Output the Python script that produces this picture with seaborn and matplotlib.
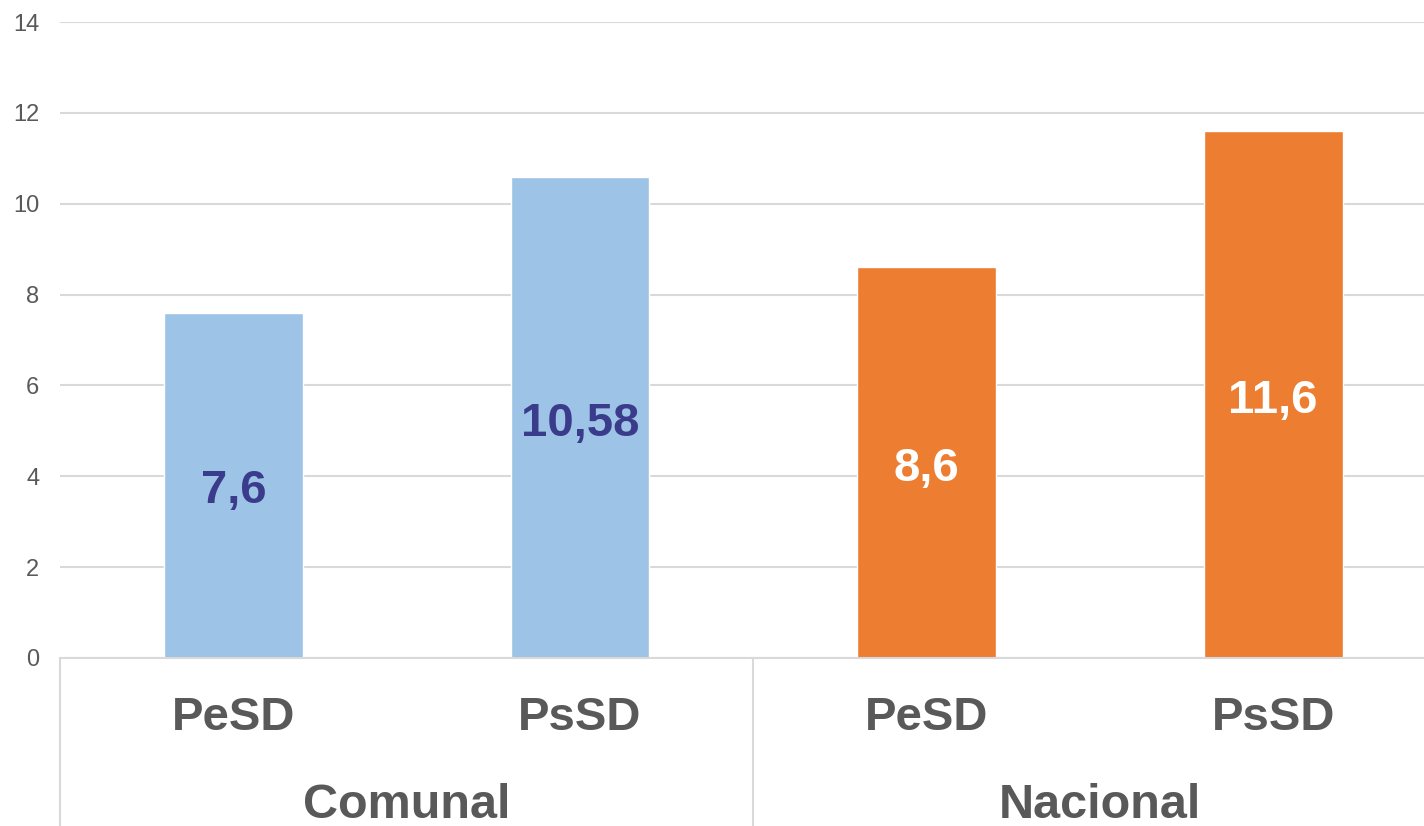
import matplotlib
matplotlib.use("Agg")
import matplotlib.pyplot as plt
import matplotlib.transforms as mtransforms
import seaborn as sns
import pandas as pd

# Chart data
groups = ["Comunal", "Comunal", "Nacional", "Nacional"]
subcats = ["PeSD", "PsSD", "PeSD", "PsSD"]
values = [7.6, 10.58, 8.6, 11.6]
value_labels = ["7,6", "10,58", "8,6", "11,6"]
group_names = ["Comunal", "Nacional"]
y_ticks = [0, 2, 4, 6, 8, 10, 12, 14]

bar_colors = {"Comunal": "#9DC3E6", "Nacional": "#ED7D31"}
text_colors = {"Comunal": "#3B3B8C", "Nacional": "#FFFFFF"}

df = pd.DataFrame({
    "group": groups,
    "sub": subcats,
    "value": values,
})
df["pos"] = df["group"] + " " + df["sub"]

sns.set_style("white")
plt.rcParams["font.family"] = ["Liberation Sans", "DejaVu Sans"]

fig = plt.figure(figsize=(14.24, 8.26), dpi=100)
ax = fig.add_axes([60 / 1424, 168 / 826, 1 - 60 / 1424, (658 - 22) / 826])

sns.barplot(data=df, x="pos", y="value", hue="group", palette=bar_colors,
            order=list(df["pos"]), dodge=False, width=0.4, saturation=1,
            legend=False, ax=ax)

ax.set_ylim(0, 14)
ax.set_xlim(-0.5, 3.435)
ax.set_yticks(y_ticks)
ax.set_yticklabels([str(t) for t in y_ticks], fontsize=17, color="#595959")
ax.yaxis.grid(True, color="#D9D9D9", linewidth=1.5)
ax.set_axisbelow(True)

ax.set_xticks(range(len(subcats)))
ax.set_xticklabels(subcats, fontsize=34, fontweight="bold", color="#595959")
ax.tick_params(axis="x", length=0, pad=27)
ax.tick_params(axis="y", length=0, pad=15)
ax.set_xlabel("")
ax.set_ylabel("")

for side in ["top", "right", "left"]:
    ax.spines[side].set_visible(False)
ax.spines["bottom"].set_color("#D9D9D9")
ax.spines["bottom"].set_linewidth(1.5)

# value labels in the middle of each bar (nudged down a few pixels)
label_tr = mtransforms.offset_copy(ax.transData, fig=fig, y=-6, units="dots")
for i, (v, lab, g) in enumerate(zip(values, value_labels, groups)):
    ax.text(i, v / 2, lab, ha="center", va="center", fontsize=34,
            fontweight="bold", color=text_colors[g], transform=label_tr)

# second level category axis
trans = mtransforms.blended_transform_factory(ax.transData, ax.transAxes)
for x in [-0.5, 1.5]:
    ax.plot([x, x], [0, -0.27], transform=trans, color="#D9D9D9",
            linewidth=1.5, clip_on=False)
for k, name in enumerate(group_names):
    ax.text(0.5 + 2 * k, -0.232, name, transform=trans, ha="center",
            va="center", fontsize=35, fontweight="bold", color="#595959")

fig.savefig("out.png", dpi=100)
